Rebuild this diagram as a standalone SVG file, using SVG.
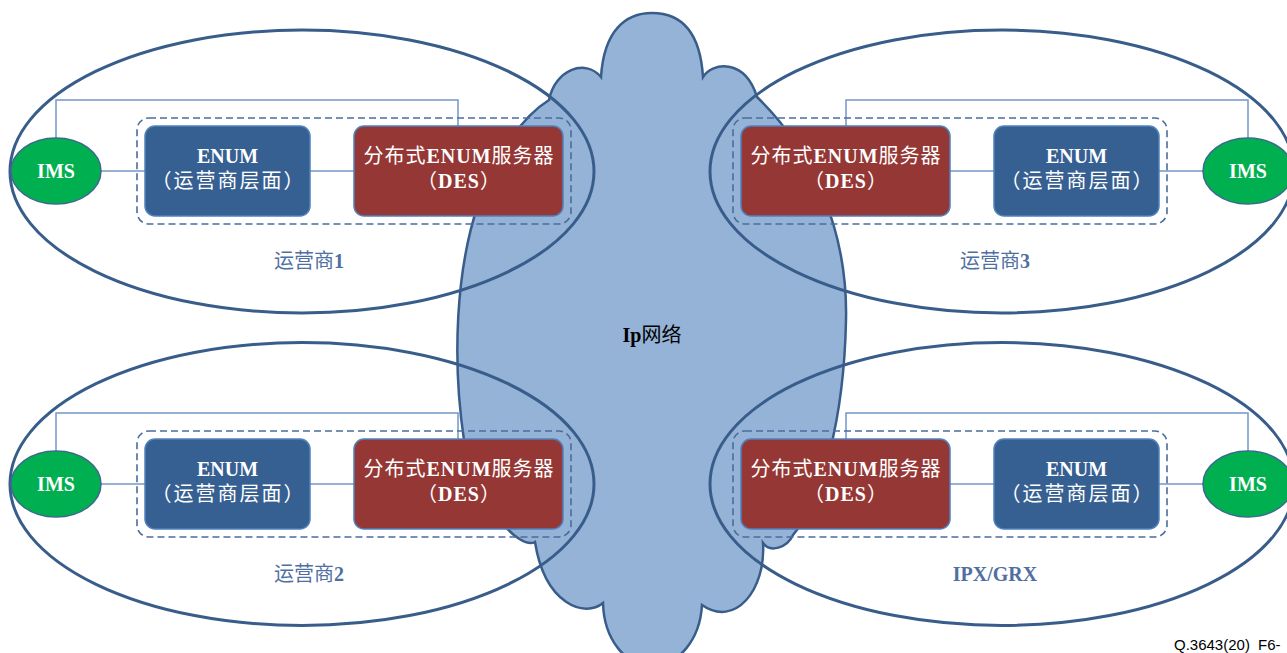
<svg xmlns="http://www.w3.org/2000/svg" width="1287" height="653" viewBox="0 0 1287 653">
  <style>
    .cloud { fill: #95B3D7; stroke: #385D8A; stroke-width: 2.5; }
    .dom { fill: none; stroke: #385D8A; stroke-width: 3; }
    .ims { fill: #00B050; stroke: #3B6A8E; stroke-width: 1.5; }
    .enum { fill: #376092; stroke: #4F81BD; stroke-width: 1.5; }
    .des { fill: #953735; stroke: #4F81BD; stroke-width: 1.5; }
    .zone { fill: none; stroke: #4A6D9C; stroke-width: 1.6; stroke-dasharray: 7 4; }
    .link { fill: none; stroke: #7396C9; stroke-width: 1.5; }
    .t { font-family: "Liberation Serif", "Noto Sans CJK SC", serif; font-size: 20px; fill: #FFFFFF; text-anchor: middle; }
    .b { font-weight: bold; }
    .s1 { letter-spacing: 1px; }
    .s2 { letter-spacing: 2px; }
    .lbl { fill: #4F6FA3; }
    .blk { fill: #000000; }
  </style>

  <!-- IP network cloud -->
  <g id="ip-network">
    <path class="cloud" d="M 601,77 C 604,30 626,13 652,13 C 680,13 700,30 703,77 C 712,62 745,58 757,97 C 812,150 848,230 846,320 C 844,420 822,500 793,535 C 787,548 770,553 763,543 C 766,590 735,628 702,605 C 700,640 678,666 652,666 C 626,666 604,640 603,603 C 585,618 545,605 535,542 C 520,550 480,510 464,440 C 452,360 456,270 478,205 C 497,150 525,115 549,100 C 555,70 585,58 601,77 Z"/>
    <text class="t blk" x="652" y="342"><tspan class="b">Ip</tspan>网络</text>
  </g>

  <!-- operator domains -->
  <g id="domain-op1">
    <ellipse class="dom" cx="302" cy="171.5" rx="292" ry="141.5"/>
    <text class="t lbl" x="309" y="268">运营商<tspan class="b">1</tspan></text>
  </g>
  <g id="domain-op3">
    <ellipse class="dom" cx="1002" cy="171.5" rx="292" ry="141.5"/>
    <text class="t lbl" x="995" y="268">运营商<tspan class="b">3</tspan></text>
  </g>
  <g id="domain-op2">
    <ellipse class="dom" cx="302" cy="484" rx="292" ry="141.5"/>
    <text class="t lbl" x="309" y="581">运营商<tspan class="b">2</tspan></text>
  </g>
  <g id="domain-ipx">
    <ellipse class="dom" cx="1002" cy="484" rx="292" ry="141.5"/>
    <text class="t lbl b" x="995" y="581">IPX/GRX</text>
  </g>

  <!-- connectors -->
  <g id="connectors">
    <line class="link" x1="100" y1="171" x2="145" y2="171"/>
    <line class="link" x1="310" y1="171" x2="354" y2="171"/>
    <polyline class="link" points="56,138 56,100 458,100 458,126"/>

    <line class="link" x1="1204" y1="171" x2="1159" y2="171"/>
    <line class="link" x1="994" y1="171" x2="950" y2="171"/>
    <polyline class="link" points="1248,138 1248,100 846,100 846,126"/>

    <line class="link" x1="100" y1="484" x2="145" y2="484"/>
    <line class="link" x1="310" y1="484" x2="354" y2="484"/>
    <polyline class="link" points="56,451 56,413 458,413 458,439"/>

    <line class="link" x1="1204" y1="484" x2="1159" y2="484"/>
    <line class="link" x1="994" y1="484" x2="950" y2="484"/>
    <polyline class="link" points="1248,451 1248,413 846,413 846,439"/>
  </g>

  <!-- operator 1 -->
  <g id="zone-op1"><rect class="zone" x="137" y="118" width="434" height="106" rx="12"/></g>
  <g id="ims-op1">
    <ellipse class="ims" cx="56" cy="171" rx="45" ry="33"/>
    <text class="t b" x="56" y="178">IMS</text>
  </g>
  <g id="enum-op1">
    <rect class="enum" x="145" y="126" width="165" height="90" rx="10"/>
    <text class="t b" x="227.5" y="163">ENUM</text>
    <text class="t s2" x="228.5" y="188">（运营商层面）</text>
  </g>
  <g id="des-op1">
    <rect class="des" x="354" y="126" width="209" height="90" rx="10"/>
    <text class="t s1" x="459" y="163">分布式<tspan class="b">ENUM</tspan>服务器</text>
    <text class="t s1" x="459" y="188">（<tspan class="b">DES</tspan>）</text>
  </g>

  <!-- operator 3 -->
  <g id="zone-op3"><rect class="zone" x="733" y="118" width="434" height="106" rx="12"/></g>
  <g id="ims-op3">
    <ellipse class="ims" cx="1248" cy="171" rx="45" ry="33"/>
    <text class="t b" x="1248" y="178">IMS</text>
  </g>
  <g id="enum-op3">
    <rect class="enum" x="994" y="126" width="165" height="90" rx="10"/>
    <text class="t b" x="1076.5" y="163">ENUM</text>
    <text class="t s2" x="1077.5" y="188">（运营商层面）</text>
  </g>
  <g id="des-op3">
    <rect class="des" x="741" y="126" width="209" height="90" rx="10"/>
    <text class="t s1" x="846" y="163">分布式<tspan class="b">ENUM</tspan>服务器</text>
    <text class="t s1" x="846" y="188">（<tspan class="b">DES</tspan>）</text>
  </g>

  <!-- operator 2 -->
  <g id="zone-op2"><rect class="zone" x="137" y="431" width="434" height="106" rx="12"/></g>
  <g id="ims-op2">
    <ellipse class="ims" cx="56" cy="484" rx="45" ry="33"/>
    <text class="t b" x="56" y="491">IMS</text>
  </g>
  <g id="enum-op2">
    <rect class="enum" x="145" y="439" width="165" height="90" rx="10"/>
    <text class="t b" x="227.5" y="476">ENUM</text>
    <text class="t s2" x="228.5" y="501">（运营商层面）</text>
  </g>
  <g id="des-op2">
    <rect class="des" x="354" y="439" width="209" height="90" rx="10"/>
    <text class="t s1" x="459" y="476">分布式<tspan class="b">ENUM</tspan>服务器</text>
    <text class="t s1" x="459" y="501">（<tspan class="b">DES</tspan>）</text>
  </g>

  <!-- IPX/GRX -->
  <g id="zone-ipx"><rect class="zone" x="733" y="431" width="434" height="106" rx="12"/></g>
  <g id="ims-ipx">
    <ellipse class="ims" cx="1248" cy="484" rx="45" ry="33"/>
    <text class="t b" x="1248" y="491">IMS</text>
  </g>
  <g id="enum-ipx">
    <rect class="enum" x="994" y="439" width="165" height="90" rx="10"/>
    <text class="t b" x="1076.5" y="476">ENUM</text>
    <text class="t s2" x="1077.5" y="501">（运营商层面）</text>
  </g>
  <g id="des-ipx">
    <rect class="des" x="741" y="439" width="209" height="90" rx="10"/>
    <text class="t s1" x="846" y="476">分布式<tspan class="b">ENUM</tspan>服务器</text>
    <text class="t s1" x="846" y="501">（<tspan class="b">DES</tspan>）</text>
  </g>

  <text x="1174" y="650" font-family="Liberation Sans, Arial, sans-serif" font-size="15" word-spacing="4" fill="#000000">Q.3643(20) F6-</text>
</svg>
